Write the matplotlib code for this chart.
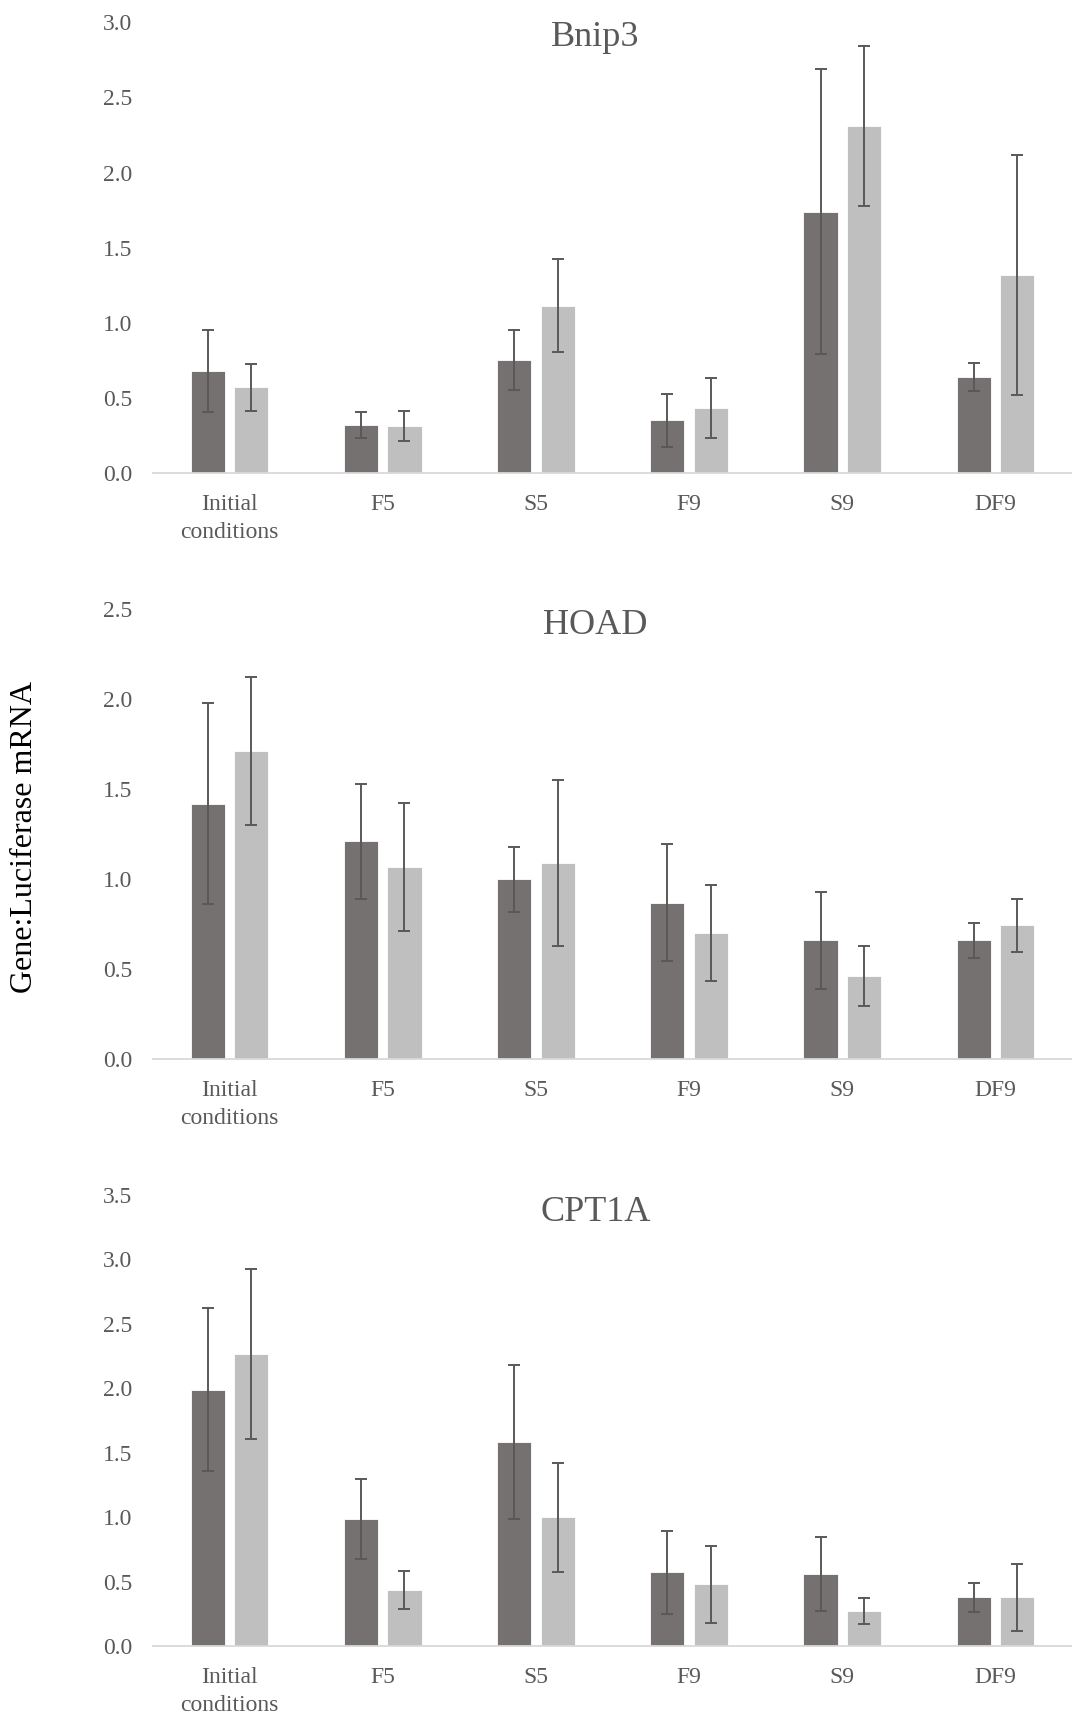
import numpy as np
import matplotlib
matplotlib.use('Agg')
import matplotlib.pyplot as plt

plt.rcParams['font.family'] = ['Liberation Serif', 'DejaVu Serif']

categories = ['Initial\nconditions', 'F5', 'S5', 'F9', 'S9', 'DF9']

# Bnip3
bnip3_dark = [0.68, 0.32, 0.75, 0.35, 1.74, 0.64]
bnip3_dark_err = [0.275, 0.085, 0.20, 0.175, 0.95, 0.093]
bnip3_light = [0.57, 0.31, 1.115, 0.43, 2.31, 1.32]
bnip3_light_err = [0.155, 0.10, 0.31, 0.20, 0.53, 0.80]

# HOAD
hoad_dark = [1.42, 1.21, 1.00, 0.87, 0.66, 0.66]
hoad_dark_err = [0.56, 0.32, 0.18, 0.325, 0.27, 0.097]
hoad_light = [1.71, 1.07, 1.09, 0.70, 0.465, 0.745]
hoad_light_err = [0.41, 0.355, 0.46, 0.267, 0.166, 0.148]

# CPT1A
cpt1a_dark = [1.99, 0.99, 1.585, 0.575, 0.56, 0.38]
cpt1a_dark_err = [0.63, 0.31, 0.60, 0.323, 0.285, 0.115]
cpt1a_light = [2.27, 0.44, 1.00, 0.48, 0.275, 0.38]
cpt1a_light_err = [0.66, 0.148, 0.42, 0.295, 0.10, 0.26]

panels = [
    ('Bnip3', bnip3_dark, bnip3_dark_err, bnip3_light, bnip3_light_err, 3.0),
    ('HOAD', hoad_dark, hoad_dark_err, hoad_light, hoad_light_err, 2.5),
    ('CPT1A', cpt1a_dark, cpt1a_dark_err, cpt1a_light, cpt1a_light_err, 3.5),
]

# constants
W, H = 1072, 1717
dark_color = '#767171'
light_color = '#BFBFBF'
text_color = '#595959'
bar_w = 0.222
offset = 0.142

fig = plt.figure(figsize=(W / 100, H / 100), dpi=100)

# axes boxes in pixels: bottom of axis, top of axis, title baseline
boxes = [(473, 22.4, 46.5), (1059.4, 609, 634), (1646.4, 1195, 1220.7)]
left_px, right_px = 153, 1072

x = np.arange(len(categories))
for (title, dark, dark_err, light, light_err, ymax), (b_px, t_px, title_px) in zip(panels, boxes):
    ax = fig.add_axes([left_px / W, 1 - b_px / H, (right_px - left_px) / W, (b_px - t_px) / H])
    ax.bar(x - offset, dark, bar_w, color=dark_color, edgecolor='white', linewidth=0.6)
    ax.bar(x + offset, light, bar_w, color=light_color, edgecolor='white', linewidth=0.6)
    err_kw = dict(fmt='none', ecolor=text_color, elinewidth=1.4, capsize=4.5, capthick=1.4)
    ax.errorbar(x - offset, dark, yerr=dark_err, **err_kw)
    ax.errorbar(x + offset, light, yerr=light_err, **err_kw)

    # appearance
    ax.set_xlim(-0.5, len(categories) - 0.5)
    ax.set_ylim(0, ymax)
    ticks = np.arange(0, ymax + 0.01, 0.5)
    ax.set_yticks(ticks)
    ax.set_yticklabels([f'{v:.1f}' for v in ticks])
    ax.set_xticks(x)
    ax.set_xticklabels(categories, linespacing=1.45)
    ax.tick_params(axis='y', length=0, pad=15, labelsize=17, labelcolor=text_color)
    ax.tick_params(axis='x', length=0, pad=15, labelsize=17, labelcolor=text_color)
    for side in ['top', 'right', 'left']:
        ax.spines[side].set_visible(False)
    ax.spines['bottom'].set_color('#D9D9D9')
    ax.spines['bottom'].set_linewidth(1.3)

    fig.text(595.5 / W, 1 - title_px / H, title, fontsize=26, color=text_color,
             ha='center', va='baseline')

fig.text(25 / W, 1 - 837 / H, 'Gene:Luciferase mRNA', rotation=90, fontsize=23,
         color='black', ha='center', va='center')

plt.savefig('out.png', dpi=100)
